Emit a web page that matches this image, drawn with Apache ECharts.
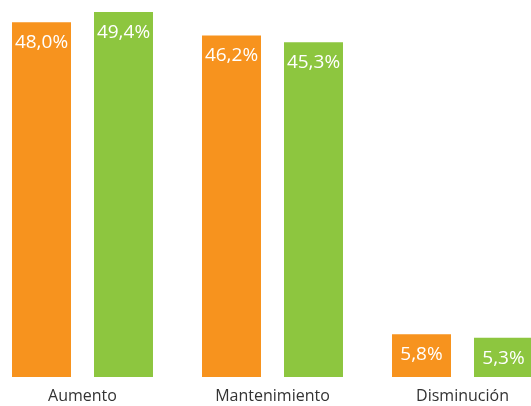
<!DOCTYPE html>
<html>
<head>
<meta charset="utf-8">
<script src="https://cdn.jsdelivr.net/npm/echarts@6/dist/echarts.min.js"></script>
<style>
html,body{margin:0;padding:0;background:#fff;}
#chart{width:531px;height:406px;}
</style>
</head>
<body>
<div id="chart"></div>
<script>
var categories = ['Aumento', 'Mantenimiento', 'Disminución'];
var seriesA = [48.0, 46.2, 5.8];
var seriesB = [49.4, 45.3, 5.3];
var colors = ['#F7931E', '#8DC63F'];

function fmt(p) { return p.value.toFixed(1).replace('.', ',') + '%'; }

var labelStyle = {
  show: true,
  position: 'insideTop',
  distance: 11,
  color: '#ffffff',
  fontSize: 19,
  fontFamily: 'Open Sans',
  formatter: fmt
};

var chart = echarts.init(document.getElementById('chart'), null, {renderer: 'canvas'});
chart.setOption({
  animation: false,
  grid: {left: -12.5, width: 570, top: 7.5, bottom: 29, containLabel: false, outerBoundsMode: 'none'},
  xAxis: {
    type: 'category',
    data: categories,
    axisLine: {show: false},
    axisTick: {show: false},
    axisLabel: {color: '#333333', fontSize: 16, fontFamily: 'Open Sans', margin: 11}
  },
  yAxis: {
    type: 'value',
    min: 0,
    max: 50,
    show: false,
    splitLine: {show: false}
  },
  series: [
    {type: 'bar', data: seriesA, itemStyle: {color: colors[0]}, barGap: '39%', barCategoryGap: '25.8%', label: labelStyle},
    {type: 'bar', data: seriesB, itemStyle: {color: colors[1]}, barGap: '39%', barCategoryGap: '25.8%', label: labelStyle}
  ]
});
</script>
</body>
</html>
